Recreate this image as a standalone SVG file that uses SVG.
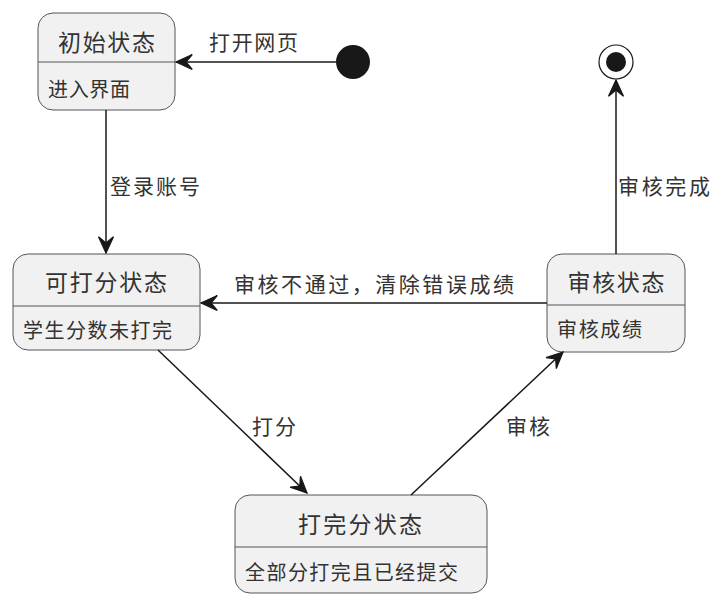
<svg xmlns="http://www.w3.org/2000/svg" width="723" height="602" viewBox="0 0 723 602">
<defs>
<marker id="arr" markerUnits="userSpaceOnUse" markerWidth="20" markerHeight="20" viewBox="-14 -8 16 16" refX="0" refY="0" orient="auto">
<path d="M0,0 L-13,-6 L-8,0 L-13,6 Z" fill="#181818" stroke="#181818" stroke-width="1" stroke-linejoin="miter"/>
</marker>
</defs>
<style>
.box{fill:#F1F1F1;stroke:#555555;stroke-width:1}
.div{stroke:#555555;stroke-width:1}
.t{font-family:"Noto Sans CJK SC","Liberation Sans",sans-serif;fill:#333333}
.title{font-size:23px;text-anchor:middle}
.body{font-size:20px}
.lbl{font-family:"Noto Sans CJK SC","Liberation Sans",sans-serif;font-size:21px;fill:#333333}
.edge{stroke:#181818;stroke-width:1.5;fill:none;marker-end:url(#arr)}
</style>
<rect width="723" height="602" fill="#FFFFFF"/>
<g id="start"><circle cx="353" cy="62" r="17" fill="#181818"/></g>
<g id="end"><circle cx="616" cy="62" r="17" fill="none" stroke="#181818" stroke-width="1.2"/><circle cx="616" cy="62" r="10" fill="#181818"/></g>
<g id="n1">
<rect class="box" x="38" y="13" width="137" height="97" rx="15"/>
<line class="div" x1="38" y1="62" x2="175" y2="62"/>
<text class="t title" x="106.5" y="51" textLength="97" lengthAdjust="spacing">初始状态</text>
<text class="t body" x="48" y="97" textLength="82" lengthAdjust="spacing">进入界面</text>
</g>
<g id="n2">
<rect class="box" x="13" y="254" width="187" height="96" rx="15"/>
<line class="div" x1="13" y1="306" x2="200" y2="306"/>
<text class="t title" x="106" y="291" textLength="122" lengthAdjust="spacing">可打分状态</text>
<text class="t body" x="23" y="338" textLength="149" lengthAdjust="spacing">学生分数未打完</text>
</g>
<g id="n3">
<rect class="box" x="547" y="254" width="138" height="98" rx="15"/>
<line class="div" x1="547" y1="305" x2="685" y2="305"/>
<text class="t title" x="616" y="291" textLength="97" lengthAdjust="spacing">审核状态</text>
<text class="t body" x="557" y="337" textLength="85" lengthAdjust="spacing">审核成绩</text>
</g>
<g id="n4">
<rect class="box" x="235" y="495" width="252" height="98" rx="15"/>
<line class="div" x1="235" y1="547" x2="487" y2="547"/>
<text class="t title" x="360" y="533" textLength="124" lengthAdjust="spacing">打完分状态</text>
<text class="t body" x="245" y="580" textLength="213" lengthAdjust="spacing">全部分打完且已经提交</text>
</g>
<g id="edges">
<line class="edge" x1="336" y1="62" x2="176" y2="62"/>
<line class="edge" x1="106" y1="110" x2="106" y2="253"/>
<line class="edge" x1="547" y1="303" x2="201" y2="303"/>
<line class="edge" x1="158" y1="350" x2="307" y2="493"/>
<line class="edge" x1="411" y1="495" x2="563" y2="352"/>
<line class="edge" x1="616" y1="254" x2="616" y2="80"/>
<text class="lbl" x="209" y="50" textLength="89" lengthAdjust="spacing">打开网页</text>
<text class="lbl" x="110" y="194" textLength="90" lengthAdjust="spacing">登录账号</text>
<text class="lbl" x="618" y="194" textLength="92" lengthAdjust="spacing">审核完成</text>
<text class="lbl" x="234" y="292" textLength="280" lengthAdjust="spacing">审核不通过，清除错误成绩</text>
<text class="lbl" x="252" y="434" textLength="44" lengthAdjust="spacing">打分</text>
<text class="lbl" x="506" y="434" textLength="44" lengthAdjust="spacing">审核</text>
</g>
</svg>
